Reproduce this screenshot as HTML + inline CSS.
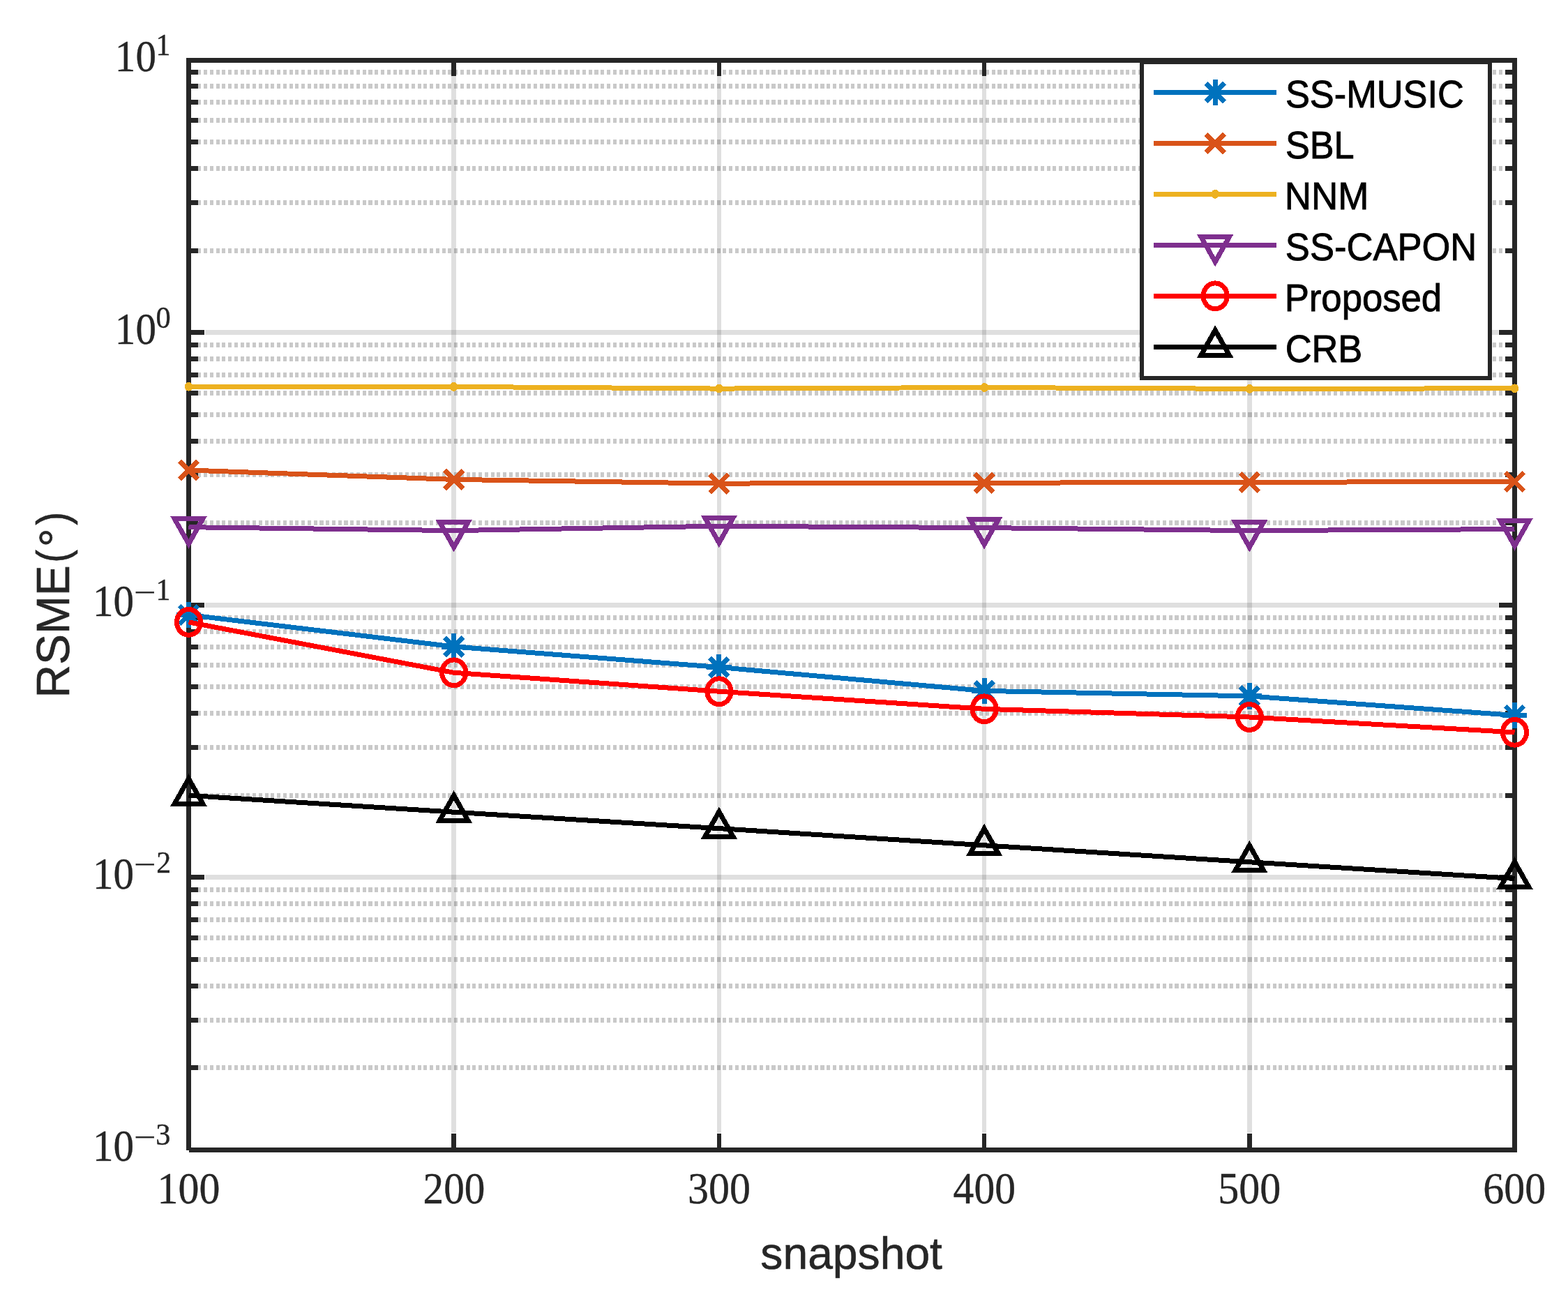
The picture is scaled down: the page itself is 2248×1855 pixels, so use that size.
<!DOCTYPE html>
<html lang="en"><head><meta charset="utf-8"><title>RSME vs snapshot</title>
<style>html,body{margin:0;padding:0;background:#fff}body{width:2248px;height:1855px;overflow:hidden}svg{display:block}.ser{font-family:"Liberation Serif",serif;fill:#262626;stroke:#262626;stroke-width:0.4px}.san{font-family:"Liberation Sans",sans-serif}</style></head><body>
<svg width="2248" height="1855" viewBox="0 0 2248 1855" shape-rendering="crispEdges">
<rect width="2248" height="1855" fill="#fff"/>
<g stroke="#262626" stroke-width="7" fill="none" stroke-opacity="0.15">
<path d="M650.50 109.00V1624.00" stroke-width="7"/>
<path d="M1031.00 109.00V1624.00" stroke-width="6"/>
<path d="M1411.00 109.00V1624.00" stroke-width="6"/>
<path d="M1791.50 109.00V1624.00" stroke-width="7"/>
<path d="M294.00 476.50H2148.00"/>
<path d="M294.00 867.50H2148.00"/>
<path d="M294.00 1257.50H2148.00"/>
</g>
<g stroke="#262626" stroke-width="7" fill="none" stroke-opacity="0.25" stroke-dasharray="5.1 3.657" stroke-dashoffset="4.73">
<path d="M270.50 359.50H2155.00"/>
<path d="M270.50 290.50H2155.00"/>
<path d="M270.50 241.50H2155.00"/>
<path d="M270.50 203.50H2155.00"/>
<path d="M270.50 172.50H2155.00"/>
<path d="M270.50 146.50H2155.00"/>
<path d="M270.50 123.50H2155.00"/>
<path d="M270.50 103.50H2155.00"/>
<path d="M270.50 749.50H2155.00"/>
<path d="M270.50 680.50H2155.00"/>
<path d="M270.50 632.50H2155.00"/>
<path d="M270.50 594.50H2155.00"/>
<path d="M270.50 563.50H2155.00"/>
<path d="M270.50 537.50H2155.00"/>
<path d="M270.50 514.50H2155.00"/>
<path d="M270.50 494.50H2155.00"/>
<path d="M270.50 1140.50H2155.00"/>
<path d="M270.50 1071.50H2155.00"/>
<path d="M270.50 1022.50H2155.00"/>
<path d="M270.50 984.50H2155.00"/>
<path d="M270.50 953.50H2155.00"/>
<path d="M270.50 927.50H2155.00"/>
<path d="M270.50 905.50H2155.00"/>
<path d="M270.50 885.50H2155.00"/>
<path d="M270.50 1530.50H2155.00"/>
<path d="M270.50 1462.50H2155.00"/>
<path d="M270.50 1413.50H2155.00"/>
<path d="M270.50 1375.50H2155.00"/>
<path d="M270.50 1344.50H2155.00"/>
<path d="M270.50 1318.50H2155.00"/>
<path d="M270.50 1295.50H2155.00"/>
<path d="M270.50 1275.50H2155.00"/>
</g>
<g stroke="#262626" stroke-width="7" fill="none">
<path d="M650.50 86.50v22.50M650.50 1648.50v-23.50" stroke-width="7"/>
<path d="M1031.00 86.50v22.50M1031.00 1648.50v-23.50" stroke-width="6"/>
<path d="M1411.00 86.50v22.50M1411.00 1648.50v-23.50" stroke-width="6"/>
<path d="M1791.50 86.50v22.50M1791.50 1648.50v-23.50" stroke-width="7"/>
<path d="M270.50 476.50h22.50M2171.50 476.50h-22.50"/>
<path d="M270.50 867.50h22.50M2171.50 867.50h-22.50"/>
<path d="M270.50 1257.50h22.50M2171.50 1257.50h-22.50"/>
<path d="M270.50 359.50h13.50M2171.50 359.50h-13.50"/>
<path d="M270.50 290.50h13.50M2171.50 290.50h-13.50"/>
<path d="M270.50 241.50h13.50M2171.50 241.50h-13.50"/>
<path d="M270.50 203.50h13.50M2171.50 203.50h-13.50"/>
<path d="M270.50 172.50h13.50M2171.50 172.50h-13.50"/>
<path d="M270.50 146.50h13.50M2171.50 146.50h-13.50"/>
<path d="M270.50 123.50h13.50M2171.50 123.50h-13.50"/>
<path d="M270.50 103.50h13.50M2171.50 103.50h-13.50"/>
<path d="M270.50 749.50h13.50M2171.50 749.50h-13.50"/>
<path d="M270.50 680.50h13.50M2171.50 680.50h-13.50"/>
<path d="M270.50 632.50h13.50M2171.50 632.50h-13.50"/>
<path d="M270.50 594.50h13.50M2171.50 594.50h-13.50"/>
<path d="M270.50 563.50h13.50M2171.50 563.50h-13.50"/>
<path d="M270.50 537.50h13.50M2171.50 537.50h-13.50"/>
<path d="M270.50 514.50h13.50M2171.50 514.50h-13.50"/>
<path d="M270.50 494.50h13.50M2171.50 494.50h-13.50"/>
<path d="M270.50 1140.50h13.50M2171.50 1140.50h-13.50"/>
<path d="M270.50 1071.50h13.50M2171.50 1071.50h-13.50"/>
<path d="M270.50 1022.50h13.50M2171.50 1022.50h-13.50"/>
<path d="M270.50 984.50h13.50M2171.50 984.50h-13.50"/>
<path d="M270.50 953.50h13.50M2171.50 953.50h-13.50"/>
<path d="M270.50 927.50h13.50M2171.50 927.50h-13.50"/>
<path d="M270.50 905.50h13.50M2171.50 905.50h-13.50"/>
<path d="M270.50 885.50h13.50M2171.50 885.50h-13.50"/>
<path d="M270.50 1530.50h13.50M2171.50 1530.50h-13.50"/>
<path d="M270.50 1462.50h13.50M2171.50 1462.50h-13.50"/>
<path d="M270.50 1413.50h13.50M2171.50 1413.50h-13.50"/>
<path d="M270.50 1375.50h13.50M2171.50 1375.50h-13.50"/>
<path d="M270.50 1344.50h13.50M2171.50 1344.50h-13.50"/>
<path d="M270.50 1318.50h13.50M2171.50 1318.50h-13.50"/>
<path d="M270.50 1295.50h13.50M2171.50 1295.50h-13.50"/>
<path d="M270.50 1275.50h13.50M2171.50 1275.50h-13.50"/>
</g>
<path d="M270.50 1648.50V86.50H2171.50V1648.50H270.50" stroke="#262626" stroke-width="7" fill="none" stroke-linejoin="miter"/>
<polyline points="270.50,881.50 650.70,927.00 1030.90,956.50 1411.10,990.40 1791.30,997.90 2171.50,1025.50" stroke="#0072BD" stroke-width="7" fill="none" stroke-linejoin="round"/>
<path d="M252.80 881.50h35.40M270.50 862.80v37.40M257.28 868.28l26.45 26.45M257.28 894.72l26.45 -26.45" stroke="#0072BD" stroke-width="7" fill="none"/>
<path d="M633.00 927.00h35.40M650.70 908.30v37.40M637.48 913.78l26.45 26.45M637.48 940.22l26.45 -26.45" stroke="#0072BD" stroke-width="7" fill="none"/>
<path d="M1013.20 956.50h35.40M1030.90 937.80v37.40M1017.68 943.28l26.45 26.45M1017.68 969.72l26.45 -26.45" stroke="#0072BD" stroke-width="7" fill="none"/>
<path d="M1393.40 990.40h35.40M1411.10 971.70v37.40M1397.88 977.18l26.45 26.45M1397.88 1003.62l26.45 -26.45" stroke="#0072BD" stroke-width="7" fill="none"/>
<path d="M1773.60 997.90h35.40M1791.30 979.20v37.40M1778.08 984.68l26.45 26.45M1778.08 1011.12l26.45 -26.45" stroke="#0072BD" stroke-width="7" fill="none"/>
<path d="M2153.80 1025.50h35.40M2171.50 1006.80v37.40M2158.28 1012.28l26.45 26.45M2158.28 1038.72l26.45 -26.45" stroke="#0072BD" stroke-width="7" fill="none"/>
<polyline points="270.50,674.00 650.70,687.40 1030.90,693.10 1411.10,692.30 1791.30,691.30 2171.50,690.50" stroke="#D95319" stroke-width="7" fill="none" stroke-linejoin="round"/>
<path d="M257.28 660.78l26.45 26.45M257.28 687.22l26.45 -26.45" stroke="#D95319" stroke-width="7" fill="none"/>
<path d="M637.48 674.18l26.45 26.45M637.48 700.62l26.45 -26.45" stroke="#D95319" stroke-width="7" fill="none"/>
<path d="M1017.68 679.88l26.45 26.45M1017.68 706.32l26.45 -26.45" stroke="#D95319" stroke-width="7" fill="none"/>
<path d="M1397.88 679.08l26.45 26.45M1397.88 705.52l26.45 -26.45" stroke="#D95319" stroke-width="7" fill="none"/>
<path d="M1778.08 678.08l26.45 26.45M1778.08 704.52l26.45 -26.45" stroke="#D95319" stroke-width="7" fill="none"/>
<path d="M2158.28 677.28l26.45 26.45M2158.28 703.72l26.45 -26.45" stroke="#D95319" stroke-width="7" fill="none"/>
<polyline points="270.50,554.20 650.70,554.40 1030.90,557.10 1411.10,555.50 1791.30,557.40 2171.50,556.80" stroke="#EDB120" stroke-width="7" fill="none" stroke-linejoin="round"/>
<ellipse cx="270.50" cy="554.20" rx="5.8" ry="6.4" fill="#EDB120"/>
<ellipse cx="650.70" cy="554.40" rx="5.8" ry="6.4" fill="#EDB120"/>
<ellipse cx="1030.90" cy="557.10" rx="5.8" ry="6.4" fill="#EDB120"/>
<ellipse cx="1411.10" cy="555.50" rx="5.8" ry="6.4" fill="#EDB120"/>
<ellipse cx="1791.30" cy="557.40" rx="5.8" ry="6.4" fill="#EDB120"/>
<ellipse cx="2171.50" cy="556.80" rx="5.8" ry="6.4" fill="#EDB120"/>
<polyline points="270.50,755.70 650.70,760.60 1030.90,754.20 1411.10,756.60 1791.30,760.60 2171.50,758.60" stroke="#7E2F8E" stroke-width="7" fill="none" stroke-linejoin="round"/>
<path d="M250.20 743.70h40.60L270.50 779.70Z" stroke="#7E2F8E" stroke-width="7" fill="none" stroke-linejoin="miter" stroke-miterlimit="10"/>
<path d="M630.40 748.60h40.60L650.70 784.60Z" stroke="#7E2F8E" stroke-width="7" fill="none" stroke-linejoin="miter" stroke-miterlimit="10"/>
<path d="M1010.60 742.20h40.60L1030.90 778.20Z" stroke="#7E2F8E" stroke-width="7" fill="none" stroke-linejoin="miter" stroke-miterlimit="10"/>
<path d="M1390.80 744.60h40.60L1411.10 780.60Z" stroke="#7E2F8E" stroke-width="7" fill="none" stroke-linejoin="miter" stroke-miterlimit="10"/>
<path d="M1771.00 748.60h40.60L1791.30 784.60Z" stroke="#7E2F8E" stroke-width="7" fill="none" stroke-linejoin="miter" stroke-miterlimit="10"/>
<path d="M2151.20 746.60h40.60L2171.50 782.60Z" stroke="#7E2F8E" stroke-width="7" fill="none" stroke-linejoin="miter" stroke-miterlimit="10"/>
<polyline points="270.50,891.90 650.70,964.30 1030.90,991.20 1411.10,1016.30 1791.30,1028.00 2171.50,1049.80" stroke="#FF0000" stroke-width="7" fill="none" stroke-linejoin="round"/>
<ellipse cx="270.50" cy="891.90" rx="17.1" ry="18.4" stroke="#FF0000" stroke-width="7" fill="none"/>
<ellipse cx="650.70" cy="964.30" rx="17.1" ry="18.4" stroke="#FF0000" stroke-width="7" fill="none"/>
<ellipse cx="1030.90" cy="991.20" rx="17.1" ry="18.4" stroke="#FF0000" stroke-width="7" fill="none"/>
<ellipse cx="1411.10" cy="1016.30" rx="17.1" ry="18.4" stroke="#FF0000" stroke-width="7" fill="none"/>
<ellipse cx="1791.30" cy="1028.00" rx="17.1" ry="18.4" stroke="#FF0000" stroke-width="7" fill="none"/>
<ellipse cx="2171.50" cy="1049.80" rx="17.1" ry="18.4" stroke="#FF0000" stroke-width="7" fill="none"/>
<polyline points="270.50,1140.30 650.70,1164.20 1030.90,1187.60 1411.10,1211.80 1791.30,1235.80 2171.50,1259.50" stroke="#000000" stroke-width="7" fill="none" stroke-linejoin="round"/>
<path d="M250.20 1152.30h40.60L270.50 1116.30Z" stroke="#000000" stroke-width="7" fill="none" stroke-linejoin="miter" stroke-miterlimit="10"/>
<path d="M630.40 1176.20h40.60L650.70 1140.20Z" stroke="#000000" stroke-width="7" fill="none" stroke-linejoin="miter" stroke-miterlimit="10"/>
<path d="M1010.60 1199.60h40.60L1030.90 1163.60Z" stroke="#000000" stroke-width="7" fill="none" stroke-linejoin="miter" stroke-miterlimit="10"/>
<path d="M1390.80 1223.80h40.60L1411.10 1187.80Z" stroke="#000000" stroke-width="7" fill="none" stroke-linejoin="miter" stroke-miterlimit="10"/>
<path d="M1771.00 1247.80h40.60L1791.30 1211.80Z" stroke="#000000" stroke-width="7" fill="none" stroke-linejoin="miter" stroke-miterlimit="10"/>
<path d="M2151.20 1271.50h40.60L2171.50 1235.50Z" stroke="#000000" stroke-width="7" fill="none" stroke-linejoin="miter" stroke-miterlimit="10"/>
<rect x="1637.20" y="88.70" width="499.20" height="453.60" fill="#fff" stroke="#262626" stroke-width="6"/>
<path d="M1633.20 86.50H2140.40" stroke="#262626" stroke-width="7"/>
<path d="M1654 132.40H1830" stroke="#0072BD" stroke-width="7"/>
<path d="M1724.50 132.40h35.40M1742.20 113.70v37.40M1728.98 119.18l26.45 26.45M1728.98 145.62l26.45 -26.45" stroke="#0072BD" stroke-width="7" fill="none"/>
<text class="san" transform="translate(1842.88 153.90) scale(0.9284 1)" font-size="56.4" fill="#000" stroke="#000" stroke-width="0.9">SS-MUSIC</text>
<path d="M1654 205.50H1830" stroke="#D95319" stroke-width="7"/>
<path d="M1728.98 192.28l26.45 26.45M1728.98 218.72l26.45 -26.45" stroke="#D95319" stroke-width="7" fill="none"/>
<text class="san" transform="translate(1842.88 227.00) scale(0.9262 1)" font-size="56.4" fill="#000" stroke="#000" stroke-width="0.9">SBL</text>
<path d="M1654 278.30H1830" stroke="#EDB120" stroke-width="7"/>
<ellipse cx="1742.20" cy="278.30" rx="5.8" ry="6.4" fill="#EDB120"/>
<text class="san" transform="translate(1841.64 299.80) scale(0.9395 1)" font-size="56.4" fill="#000" stroke="#000" stroke-width="0.9">NNM</text>
<path d="M1654 351.40H1830" stroke="#7E2F8E" stroke-width="7"/>
<path d="M1721.90 339.40h40.60L1742.20 375.40Z" stroke="#7E2F8E" stroke-width="7" fill="none" stroke-linejoin="miter" stroke-miterlimit="10"/>
<text class="san" transform="translate(1842.87 372.90) scale(0.9318 1)" font-size="56.4" fill="#000" stroke="#000" stroke-width="0.9">SS-CAPON</text>
<path d="M1654 424.30H1830" stroke="#FF0000" stroke-width="7"/>
<ellipse cx="1742.20" cy="424.30" rx="17.1" ry="18.4" stroke="#FF0000" stroke-width="7" fill="none"/>
<text class="san" transform="translate(1841.66 445.80) scale(0.9343 1)" font-size="56.4" fill="#000" stroke="#000" stroke-width="0.9">Proposed</text>
<path d="M1654 497.30H1830" stroke="#000000" stroke-width="7"/>
<path d="M1721.90 509.30h40.60L1742.20 473.30Z" stroke="#000000" stroke-width="7" fill="none" stroke-linejoin="miter" stroke-miterlimit="10"/>
<text class="san" transform="translate(1842.64 518.80) scale(0.9298 1)" font-size="56.4" fill="#000" stroke="#000" stroke-width="0.9">CRB</text>
<text class="ser" transform="translate(225.58 1725.20) scale(0.9487 1)" font-size="63.2" fill="#262626">100</text>
<text class="ser" transform="translate(606.62 1725.20) scale(0.9374 1)" font-size="63.2" fill="#262626">200</text>
<text class="ser" transform="translate(986.05 1725.20) scale(0.9501 1)" font-size="63.2" fill="#262626">300</text>
<text class="ser" transform="translate(1366.62 1725.20) scale(0.9429 1)" font-size="63.2" fill="#262626">400</text>
<text class="ser" transform="translate(1746.14 1725.20) scale(0.9503 1)" font-size="63.2" fill="#262626">500</text>
<text class="ser" transform="translate(2126.29 1725.20) scale(0.9475 1)" font-size="63.2" fill="#262626">600</text>
<text class="ser"><tspan x="164.85" y="102.40" font-size="63.2" textLength="59.14" lengthAdjust="spacingAndGlyphs">10</tspan><tspan x="223.42" y="79.20" font-size="43.8" textLength="20.91" lengthAdjust="spacingAndGlyphs">1</tspan></text>
<text class="ser"><tspan x="164.85" y="492.90" font-size="63.2" textLength="59.14" lengthAdjust="spacingAndGlyphs">10</tspan><tspan x="223.41" y="469.70" font-size="43.8" textLength="21.19" lengthAdjust="spacingAndGlyphs">0</tspan></text>
<text class="ser"><tspan x="132.95" y="883.40" font-size="63.2" textLength="59.14" lengthAdjust="spacingAndGlyphs">10</tspan><tspan x="192.24" y="863.62" font-size="43.8" textLength="31.35" lengthAdjust="spacingAndGlyphs">−</tspan><tspan x="223.42" y="860.20" font-size="43.8" textLength="20.91" lengthAdjust="spacingAndGlyphs">1</tspan></text>
<text class="ser"><tspan x="132.95" y="1273.90" font-size="63.2" textLength="59.14" lengthAdjust="spacingAndGlyphs">10</tspan><tspan x="192.24" y="1254.12" font-size="43.8" textLength="31.35" lengthAdjust="spacingAndGlyphs">−</tspan><tspan x="224.19" y="1250.70" font-size="43.8" textLength="20.90" lengthAdjust="spacingAndGlyphs">2</tspan></text>
<text class="ser"><tspan x="132.95" y="1664.40" font-size="63.2" textLength="59.14" lengthAdjust="spacingAndGlyphs">10</tspan><tspan x="192.24" y="1644.62" font-size="43.8" textLength="31.35" lengthAdjust="spacingAndGlyphs">−</tspan><tspan x="223.16" y="1641.20" font-size="43.8" textLength="21.24" lengthAdjust="spacingAndGlyphs">3</tspan></text>
<text class="san" transform="translate(1090.34 1819.20) scale(0.9804 1)" font-size="65.5" fill="#262626" stroke="#262626" stroke-width="0.6">snapshot</text>
<text class="san" transform="translate(98.9 995.50) rotate(-90)" fill="#262626" stroke="#262626" stroke-width="0.6"><tspan x="-5.11" y="0.00" font-size="67" textLength="190.28" lengthAdjust="spacingAndGlyphs">RSME</tspan><tspan x="188.74" y="-0.50" font-size="64.5" textLength="18.57" lengthAdjust="spacingAndGlyphs">(</tspan><tspan x="211.30" y="3.60" font-size="67.5" textLength="27.00" lengthAdjust="spacingAndGlyphs">°</tspan><tspan x="242.66" y="-0.50" font-size="64.5" textLength="19.08" lengthAdjust="spacingAndGlyphs">)</tspan></text>
</svg></body></html>
